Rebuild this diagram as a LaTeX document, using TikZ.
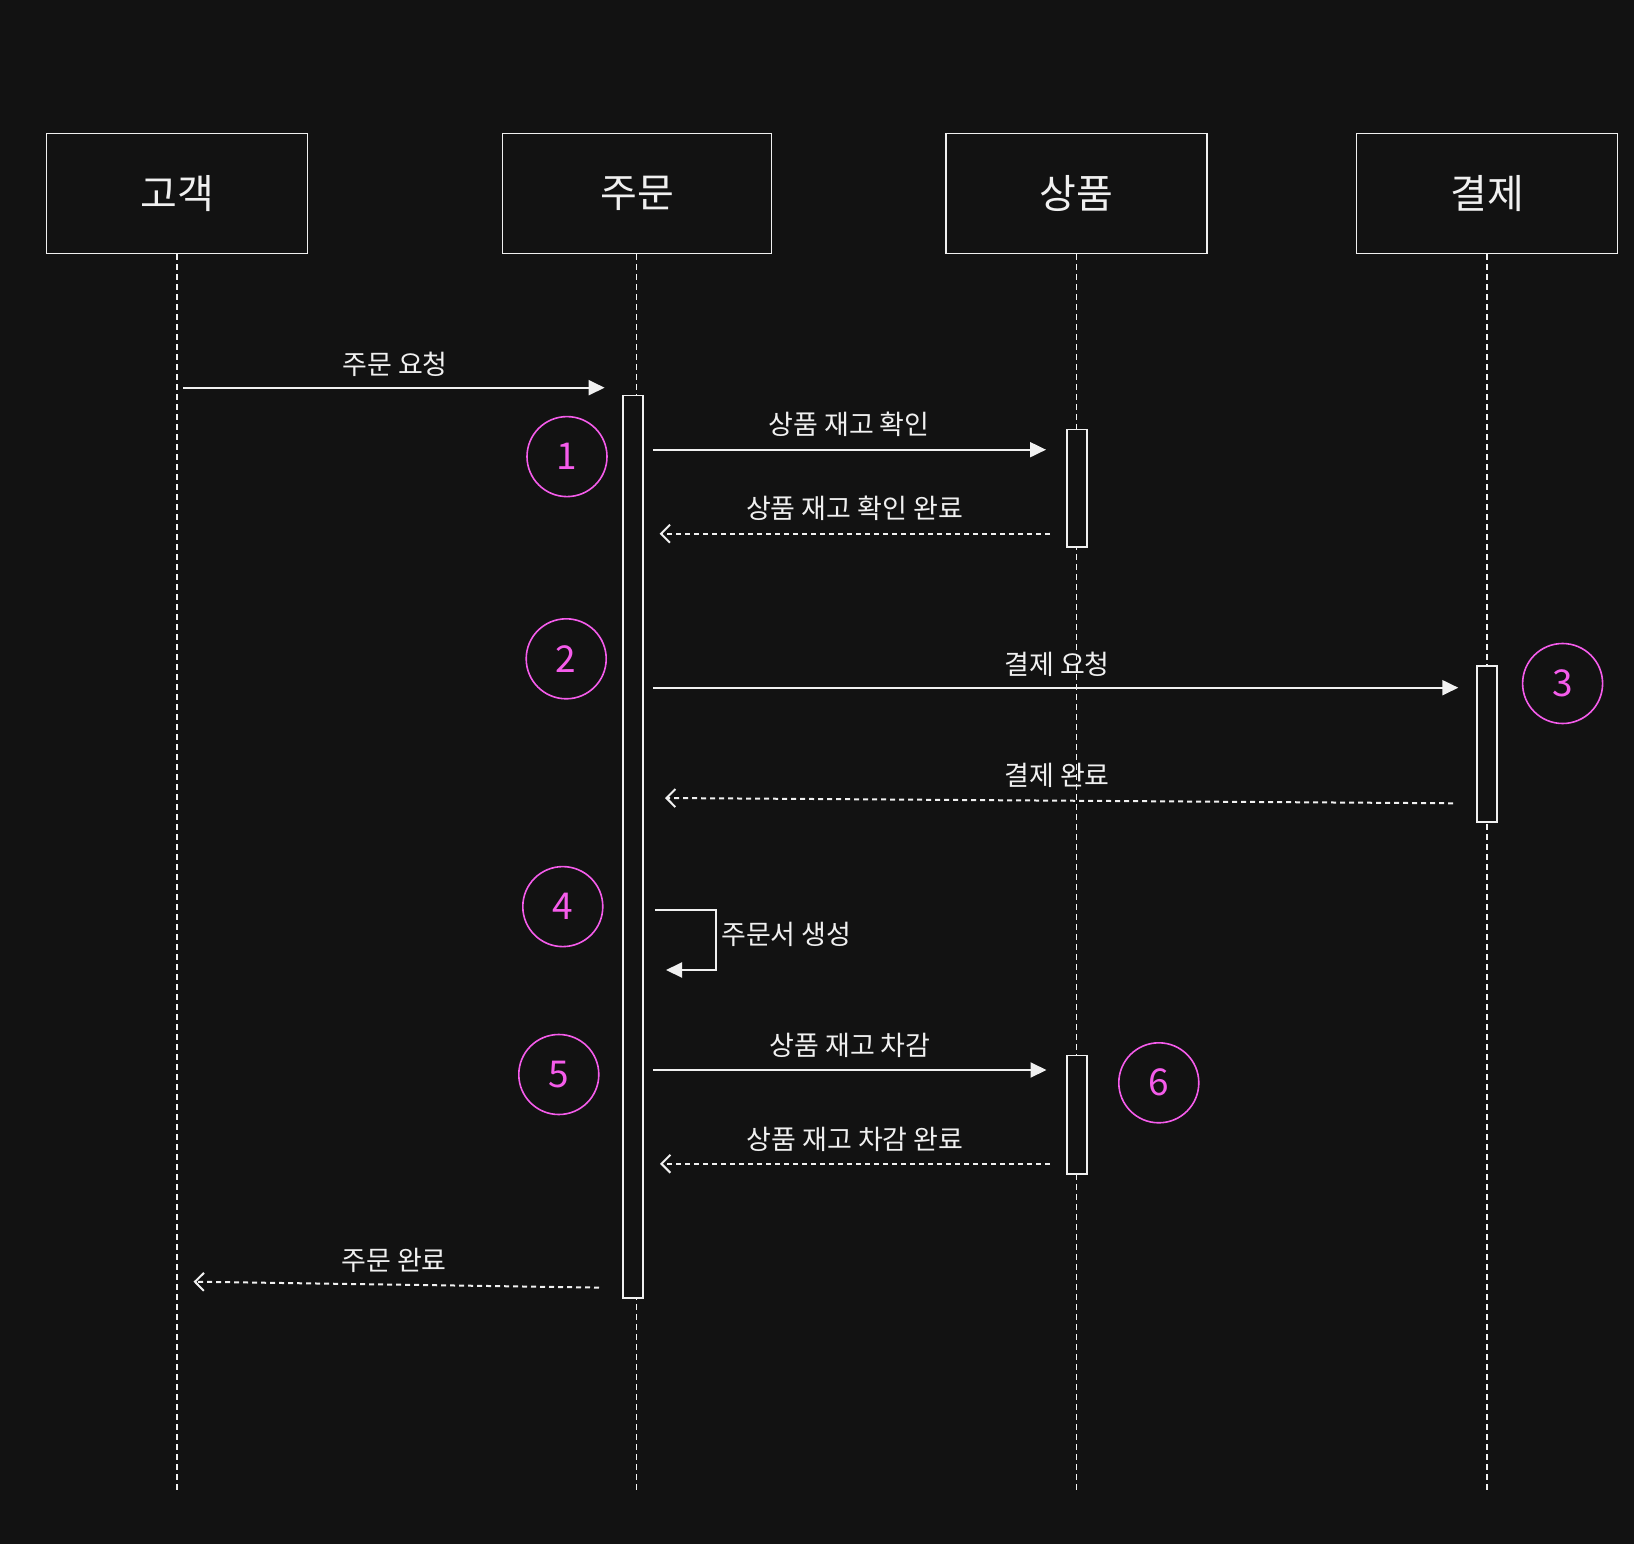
\documentclass[tikz,border=0pt]{standalone}
\usepackage{fontspec}
\newfontfamily\kr{Noto Sans CJK KR}
\usetikzlibrary{arrows.meta}
\definecolor{bg}{HTML}{121212}
\definecolor{fg}{HTML}{F0F0F0}
\definecolor{mag}{HTML}{F55CEB}
\begin{document}
\begin{tikzpicture}[x=1pt,y=-1pt,
  actor/.style={draw=fg, line width=1.6pt, fill=bg, minimum height=120pt, text=fg, font=\kr\fontsize{40}{44}\selectfont, inner sep=0pt},
  lifeline/.style={draw=fg, line width=1.5pt, dash pattern=on 6pt off 4pt},
  actbar/.style={draw=fg, line width=1.6pt, fill=bg, minimum width=20pt, inner sep=0pt},
  call/.style={draw=fg, line width=2pt, -{Triangle[length=16pt,width=15pt]}},
  reply/.style={draw=fg, line width=2pt, dash pattern=on 5pt off 4pt, -{Straight Barb[length=9pt,width=18pt,line width=2pt]}},
  msg/.style={text=fg, font=\kr\fontsize{27}{30}\selectfont, inner sep=0pt},
  stepnum/.style={circle, draw=mag, line width=1.6pt, minimum size=80pt, text=mag, font=\kr\fontsize{37}{40}\selectfont, inner sep=0pt}
]
\fill[bg] (0,0) rectangle (1634,1544);
\useasboundingbox (0,0) rectangle (1634,1544);

% actors
\node[actor, minimum width=261pt] (cust) at (177,193.6) {고객};
\node[actor, minimum width=269pt] (ord) at (637,193.6) {주문};
\node[actor, minimum width=261pt] (prod) at (1076.5,193.6) {상품};
\node[actor, minimum width=261pt] (pay) at (1487,193.6) {결제};

% lifeline ends
\coordinate (custend) at (177,1493);
\coordinate (ordend) at (636.7,1493);
\coordinate (prodend) at (1076.5,1493);
\coordinate (payend) at (1487,1493);

\draw[lifeline] (cust.south) -- (custend);
\draw[lifeline] (ord.south -| ordend) -- (ordend);
\draw[lifeline] (prod.south) -- (prodend);
\draw[lifeline] (pay.south) -- (payend);

% activation bars
\node[actbar, minimum height=902.7pt] (ordbar) at (632.8,846.7) {};
\node[actbar, minimum height=117.7pt] (prodbar1) at (1077,488.2) {};
\node[actbar, minimum height=156.3pt] (paybar) at (1487,743.9) {};
\node[actbar, minimum height=118.3pt] (prodbar2) at (1077,1114.7) {};

% message end points
\coordinate (m1a) at (183,387.7);   \coordinate (m1b) at (604.6,387.7);
\coordinate (m2a) at (653,449.7);   \coordinate (m2b) at (1046,449.7);
\coordinate (m3a) at (1050,533.7);  \coordinate (m3b) at (659.6,533.7);
\coordinate (m4a) at (653.3,687.7); \coordinate (m4b) at (1458.3,687.7);
\coordinate (m5a) at (1453.2,803.3);\coordinate (m5b) at (665,798);
\coordinate (m6a) at (654.8,909.7); \coordinate (m6c) at (715.5,970); \coordinate (m6b) at (666,970);
\coordinate (m7a) at (653,1070);    \coordinate (m7b) at (1046.5,1070);
\coordinate (m8a) at (1050,1163.8); \coordinate (m8b) at (660,1163.8);
\coordinate (m9a) at (599,1287.6);  \coordinate (m9b) at (193.5,1281.7);

\draw[call] (m1a) -- (m1b);
\draw[call] (m2a) -- (m2b);
\draw[reply] (m3a) -- (m3b);
\draw[call] (m4a) -- (m4b);
\draw[reply] (m5a) -- (m5b);
\draw[call] (m6a) -| (m6c) -- (m6b);
\draw[call] (m7a) -- (m7b);
\draw[reply] (m8a) -- (m8b);
\draw[reply] (m9a) -- (m9b);

% labels
\node[msg] (l1) at (395,364) {주문 요청};
\node[msg] (l2) at (849,424) {상품 재고 확인};
\node[msg] (l3) at (854.5,508.6) {상품 재고 확인 완료};
\node[msg] (l4) at (1057,664) {결제 요청};
\node[msg] (l5) at (1057,775.7) {결제 완료};
\node[msg, anchor=west] (l6) at (721,934) {주문서 생성};
\node[msg] (l7) at (850,1045.8) {상품 재고 차감};
\node[msg] (l8) at (855,1139.5) {상품 재고 차감 완료};
\node[msg] (l9) at (394,1260) {주문 완료};

% step circles
\node[stepnum] (s1) at (567,456.6) {1};
\node[stepnum] (s2) at (566.2,658.8) {2};
\node[stepnum] (s3) at (1562.6,683.5) {3};
\node[stepnum] (s4) at (562.8,906.6) {4};
\node[stepnum] (s5) at (558.8,1074.5) {5};
\node[stepnum] (s6) at (1158.8,1082.8) {6};
\end{tikzpicture}
\end{document}
